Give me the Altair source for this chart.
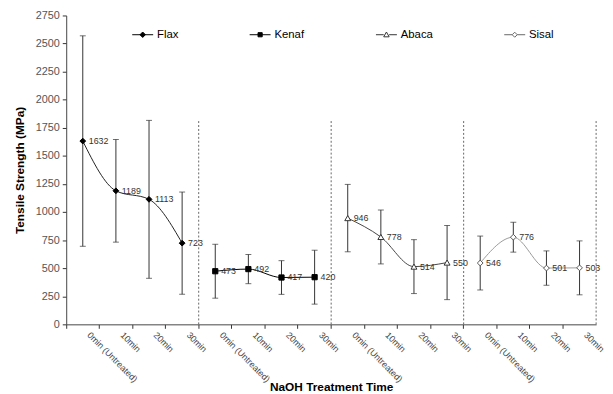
import altair as alt
import pandas as pd

# ---------------- data ----------------
series = ["Flax", "Kenaf", "Abaca", "Sisal"]
times = ["0min (Untreated)", "10min", "20min", "30min"]
flax_mean = [1632, 1189, 1113, 723]
flax_err = [937, 457, 703, 455]
kenaf_mean = [473, 492, 417, 420]
kenaf_err = [240, 130, 150, 240]
abaca_mean = [946, 778, 514, 550]
abaca_err = [300, 240, 240, 330]
sisal_mean = [546, 776, 501, 503]
sisal_err = [240, 133, 153, 240]
y_ticks = list(range(0, 2751, 250))
separator_top = 1810

means = {"Flax": flax_mean, "Kenaf": kenaf_mean, "Abaca": abaca_mean, "Sisal": sisal_mean}
errs = {"Flax": flax_err, "Kenaf": kenaf_err, "Abaca": abaca_err, "Sisal": sisal_err}

rows = []
for s in series:
    for i, t in enumerate(times):
        m, e = means[s][i], errs[s][i]
        rows.append(dict(series=s, time=t, cat=f"{s}|{t}", tidx=i,
                         value=m, lo=m - e, hi=m + e, label=str(m)))
df = pd.DataFrame(rows)
cats = list(df["cat"])

df_sep = pd.DataFrame({"cat": [f"{s}|{times[-1]}" for s in series],
                       "y0": [0] * len(series),
                       "y1": [separator_top] * len(series)})

# ---------------- styles ----------------
FONT = "Liberation Sans"
styles = {
    "Flax":  dict(line="#222222", shape="diamond", fill="#000000", stroke="#000000", size=34),
    "Kenaf": dict(line="#000000", shape="square", fill="#000000", stroke="#000000", size=28),
    "Abaca": dict(line="#444444", shape="triangle-up", fill="#ffffff", stroke="#333333", size=36),
    "Sisal": dict(line="#999999", shape="diamond", fill="#ffffff", stroke="#555555", size=34),
}
legend_paths = [
    "M-1,0H1M0,-0.26L0.26,0L0,0.26L-0.26,0Z",
    "M-1,0H1M-0.2,-0.2H0.2V0.2H-0.2Z",
    "M-1,0H-0.26M0.26,0H1M0,-0.26L0.26,0.2L-0.26,0.2Z",
    "M-1,0H-0.24M0.24,0H1M0,-0.24L0.24,0L0,0.24L-0.24,0Z",
]

W, H = 537, 313

x_scale = alt.Scale(domain=cats, paddingInner=0, paddingOuter=0)
x_axis = alt.Axis(
    title="NaOH Treatment Time", titleFont=FONT, titleFontSize=12, titleFontWeight="bold",
    titleColor="#000000", titleY=67, titleBaseline="alphabetic",
    labelExpr="split(datum.label, '|')[1]", labelAngle=45, labelAlign="left",
    labelBaseline="top", labelFont=FONT, labelFontSize=9, labelColor="#444444",
    labelOffset=9, labelPadding=2, labelOverlap=False, labelBound=False,
    bandPosition=0, ticks=True, tickSize=4, tickColor="#333333",
    domainColor="#444444", grid=False,
)
y_scale = alt.Scale(domain=[0, 2750], nice=False, zero=True)
y_axis = alt.Axis(
    title="Tensile Strength (MPa)", titleFont=FONT, titleFontSize=12, titleFontWeight="bold",
    titleColor="#000000", titleX=-40, titleY=H / 2,
    values=y_ticks, format="d", labelFont=FONT, labelFontSize=11, labelColor="#555555",
    tickSize=4, tickColor="#333333", domainColor="#444444", grid=False, labelPadding=3,
)

X = alt.X("cat:N", scale=x_scale, axis=x_axis)
base = alt.Chart(df)

layers = []
# separators
layers.append(
    alt.Chart(df_sep).mark_rule(color="#666666", strokeDash=[2, 2], strokeWidth=1).encode(
        x=alt.X("cat:N", scale=x_scale, axis=x_axis, bandPosition=1),
        y=alt.Y("y0:Q", scale=y_scale, axis=y_axis),
        y2="y1:Q",
    )
)

for s in series:
    st = styles[s]
    sub = base.transform_filter(alt.datum.series == s)
    layers.append(
        sub.mark_rule(color="#333333", strokeWidth=1).encode(
            x=X, y=alt.Y("lo:Q", scale=y_scale, axis=y_axis), y2="hi:Q")
    )
    for fld in ["lo", "hi"]:
        layers.append(
            sub.mark_tick(orient="horizontal", size=6, thickness=1, color="#333333").encode(
                x=X, y=alt.Y(f"{fld}:Q", scale=y_scale, axis=y_axis))
        )
    layers.append(
        sub.mark_line(interpolate="monotone", color=st["line"], strokeWidth=1).encode(
            x=X, y=alt.Y("value:Q", scale=y_scale, axis=y_axis), order="tidx:Q")
    )
    layers.append(
        sub.mark_point(shape=st["shape"], filled=True, fill=st["fill"], stroke=st["stroke"],
                       strokeWidth=1, size=st["size"], opacity=1).encode(
            x=X, y=alt.Y("value:Q", scale=y_scale, axis=y_axis))
    )
    layers.append(
        sub.mark_text(align="left", baseline="middle", dx=6, font=FONT, fontSize=9,
                      color="#333333").encode(
            x=X, y=alt.Y("value:Q", scale=y_scale, axis=y_axis), text="label:N")
    )

# legend (no marks drawn, only the legend)
legend = alt.Legend(
    orient="none", legendX=66, legendY=8, direction="horizontal", columns=4,
    columnPadding=69, symbolSize=450, symbolStrokeWidth=1, symbolOpacity=1,
    labelFont=FONT, labelFontSize=11.5, labelColor="#000000", labelOffset=3,
    title=None, padding=0,
)
layers.append(
    base.transform_filter("false").mark_point().encode(
        shape=alt.Shape("series:N", scale=alt.Scale(domain=series, range=legend_paths), legend=legend),
        fill=alt.Fill("series:N", scale=alt.Scale(domain=series, range=[styles[s]["fill"] for s in series]), legend=legend),
        stroke=alt.Stroke("series:N", scale=alt.Scale(domain=series, range=["#000000", "#000000", "#333333", "#666666"]), legend=legend),
    )
)

chart = alt.layer(*layers).properties(
    width=W, height=H,
    autosize=alt.AutoSizeParams(type="none"),
    padding={"left": 59, "top": 5, "right": 9, "bottom": 68},
    background="#ffffff",
).configure_view(stroke=None)

chart.save("out.html", embed_options={"renderer": "svg", "actions": False})
